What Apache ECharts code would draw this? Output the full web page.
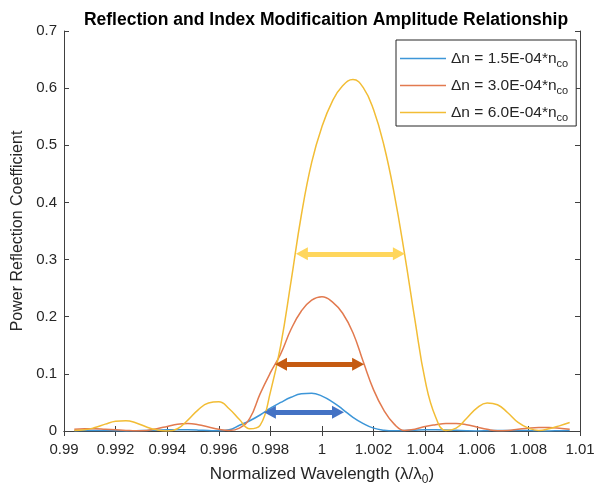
<!DOCTYPE html>
<html>
<head>
<meta charset="utf-8">
<script src="https://cdn.jsdelivr.net/npm/echarts@6/dist/echarts.min.js"></script>
<style>
  html, body { margin: 0; padding: 0; background: #ffffff; }
  #chart { width: 598px; height: 491px; }
</style>
</head>
<body>
<div id="chart"></div>
<script>
// Normalized wavelength samples (λ/λ0)
var wavelength = [
  0.9904, 0.9908, 0.9912, 0.9916, 0.9920, 0.9924, 0.9928, 0.9932, 0.9936, 0.9940,
  0.9944, 0.9948, 0.9952, 0.9956, 0.9960, 0.9964, 0.9968, 0.9972, 0.9976, 0.9980,
  0.9984, 0.9988, 0.9992, 0.9996, 1.0000, 1.0004, 1.0008, 1.0012, 1.0016, 1.0020,
  1.0024, 1.0028, 1.0032, 1.0036, 1.0040, 1.0044, 1.0048, 1.0052, 1.0056, 1.0060,
  1.0064, 1.0068, 1.0072, 1.0076, 1.0080, 1.0084, 1.0088, 1.0092, 1.0096
];

// Power reflection coefficient, Δn = 1.5E-04*n_co
var refl15 = [
  0.0005, 0.001, 0.001, 0.001, 0.0005, 0.0002, 0.0005, 0.001, 0.0015, 0.002,
  0.0022, 0.002, 0.0015, 0.0008, 0.0004, 0.002, 0.010, 0.018, 0.028, 0.040,
  0.050, 0.059, 0.065, 0.066, 0.061, 0.051, 0.038, 0.024, 0.013, 0.005,
  0.0015, 0.0004, 0.0008, 0.0015, 0.002, 0.002, 0.0018, 0.0012, 0.0005, 0.0002,
  0.0005, 0.001, 0.001, 0.001, 0.0008, 0.0003, 0.0002, 0.0005, 0.0007
];

// Power reflection coefficient, Δn = 3.0E-04*n_co
var refl30 = [
  0.003, 0.004, 0.004, 0.003, 0.002, 0.001, 0.0003, 0.001, 0.004, 0.008,
  0.012, 0.013, 0.011, 0.007, 0.003, 0.001, 0.005, 0.022, 0.065, 0.102,
  0.135, 0.178, 0.210, 0.229, 0.235, 0.226, 0.206, 0.172, 0.121, 0.072,
  0.036, 0.012, 0.001, 0.003, 0.008, 0.011, 0.013, 0.013, 0.011, 0.007,
  0.003, 0.0005, 0.001, 0.003, 0.005, 0.006, 0.006, 0.005, 0.003
];

// Power reflection coefficient, Δn = 6.0E-04*n_co
var refl60 = [
  0.001, 0.002, 0.006, 0.012, 0.017, 0.018, 0.014, 0.007, 0.002, 0.000,
  0.004, 0.019, 0.037, 0.049, 0.051, 0.039, 0.020, 0.004, 0.010, 0.068,
  0.150, 0.262, 0.378, 0.470, 0.533, 0.577, 0.604, 0.615, 0.601, 0.562,
  0.500, 0.415, 0.310, 0.195, 0.088, 0.025, 0.001, 0.005, 0.022, 0.040,
  0.049, 0.046, 0.032, 0.015, 0.005, 0.001, 0.004, 0.009, 0.015
];

var seriesNames = ['Δn = 1.5E-04*n_co', 'Δn = 3.0E-04*n_co', 'Δn = 6.0E-04*n_co'];
var seriesColors = ['#3d96d8', '#e27a4f', '#f2bd35'];

// Bandwidth markers: level and start/end wavelength of each double arrow
var arrowLevel = [0.033, 0.117, 0.310];
var arrowStart = [0.99798, 0.99841, 0.99922];
var arrowEnd   = [1.00062, 1.00140, 1.00298];
var arrowColors = ['#4472c4', '#c55a11', '#ffd65c'];

var textColor = '#262626';
var axisColor = '#404040';
var fontFamily = '"Liberation Sans", Arial, Helvetica, sans-serif';

function pairs(xs, ys) {
  return xs.map(function (x, i) { return [x, ys[i]]; });
}

var curves = [refl15, refl30, refl60].map(function (vals, i) {
  return {
    name: seriesNames[i],
    type: 'line',
    data: pairs(wavelength, vals),
    smooth: 0.45,
    symbol: 'none',
    clip: true,
    z: 2,
    lineStyle: { width: 1.5, color: seriesColors[i] },
    itemStyle: { color: seriesColors[i] }
  };
});

var arrowSeries = {
  name: 'bandwidth',
  type: 'line',
  data: [],
  z: 5,
  markLine: {
    silent: true,
    animation: false,
    symbol: ['triangle', 'triangle'],
    symbolSize: [13, 12],
    label: { show: false },
    data: arrowLevel.map(function (lv, i) {
      return [
        { coord: [arrowStart[i], lv], lineStyle: { color: arrowColors[i], width: 5, type: 'solid' }, itemStyle: { color: arrowColors[i] } },
        { coord: [arrowEnd[i], lv] }
      ];
    })
  }
};

function tickFmt(v) { return String(parseFloat(v.toFixed(4))); }

var baseX = {
  type: 'value', min: 0.99, max: 1.01, interval: 0.002,
  axisLine: { show: true, lineStyle: { color: axisColor, width: 1 } },
  axisTick: { show: true, inside: true, length: 5, lineStyle: { color: axisColor } },
  splitLine: { show: false }
};
var baseY = {
  type: 'value', min: 0, max: 0.7, interval: 0.1,
  axisLine: { show: true, lineStyle: { color: axisColor, width: 1 } },
  axisTick: { show: true, inside: true, length: 5, lineStyle: { color: axisColor } },
  splitLine: { show: false }
};

var chart = echarts.init(document.getElementById('chart'), null, { renderer: 'canvas' });
chart.setOption({
  animation: false,
  backgroundColor: '#ffffff',
  textStyle: { fontFamily: fontFamily },
  title: {
    text: 'Reflection and Index Modificaition Amplitude Relationship',
    left: 321, top: 6, textAlign: 'center',
    textStyle: { fontFamily: fontFamily, fontSize: 17.5, fontWeight: 'bold', color: '#000000' }
  },
  grid: { left: 64, right: 18, top: 31, bottom: 58 },
  legend: {
    data: seriesNames,
    orient: 'vertical',
    left: 396, top: 40,
    itemWidth: 46, itemHeight: 10, itemGap: 6,
    padding: [8, 8, 3, 4],
    backgroundColor: '#ffffff',
    borderColor: '#262626', borderWidth: 1,
    icon: 'path://M0,0 L46,0 L46,1.5 L0,1.5 Z',
    textStyle: {
      fontFamily: fontFamily, fontSize: 15.5, color: textColor,
      rich: {
        m: { fontFamily: fontFamily, fontSize: 15.5, color: textColor, lineHeight: 20 },
        s: { fontFamily: fontFamily, fontSize: 11, color: textColor, padding: [10, 0, 0, 0], lineHeight: 20 }
      }
    },
    formatter: function (name) {
      var parts = name.split('_');
      return '{m|' + parts[0] + '}{s|' + parts[1] + '}';
    }
  },
  xAxis: [
    Object.assign({}, baseX, {
      position: 'bottom',
      axisLabel: { show: true, color: textColor, fontSize: 15, margin: 11, fontFamily: fontFamily, formatter: tickFmt },
      name: 'Normalized Wavelength (λ/λ{sub|0})',
      nameLocation: 'middle', nameGap: 32,
      nameTextStyle: {
        fontFamily: fontFamily, fontSize: 17, color: textColor,
        rich: { sub: { fontFamily: fontFamily, fontSize: 12, color: textColor, padding: [11, 0, 0, 0] } }
      }
    }),
    Object.assign({}, baseX, { position: 'top', axisLabel: { show: false } })
  ],
  yAxis: [
    Object.assign({}, baseY, {
      position: 'left',
      axisLabel: { show: true, color: textColor, fontSize: 15, margin: 7, fontFamily: fontFamily, formatter: tickFmt },
      name: 'Power Reflection Coefficient',
      nameLocation: 'middle', nameGap: 33,
      nameTextStyle: { fontFamily: fontFamily, fontSize: 16, color: textColor }
    }),
    Object.assign({}, baseY, { position: 'right', axisLabel: { show: false } })
  ],
  series: curves.concat([arrowSeries])
});
</script>
</body>
</html>
